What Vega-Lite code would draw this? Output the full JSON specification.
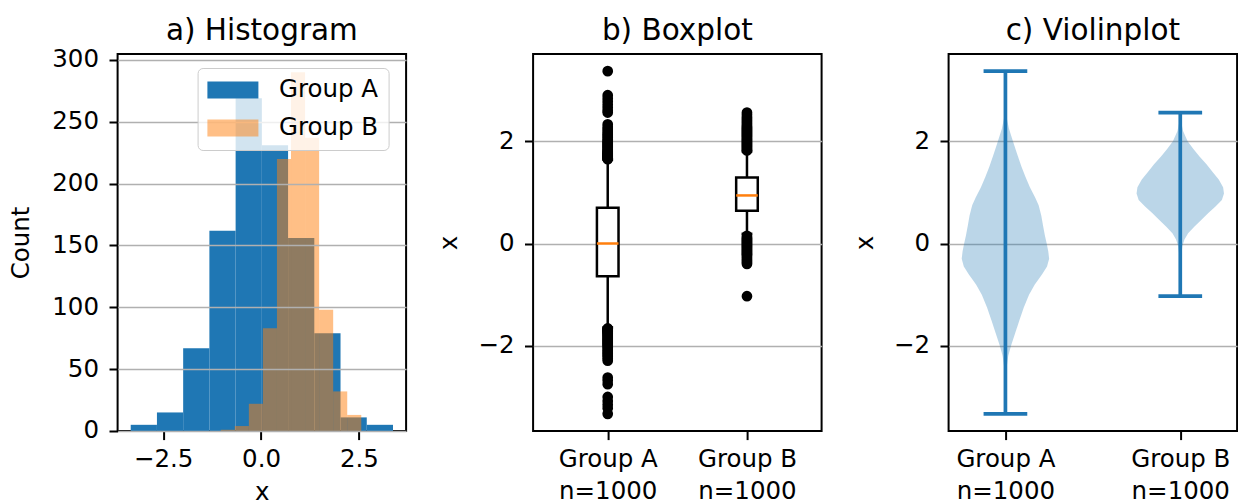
{
  "$schema": "https://vega.github.io/schema/vega-lite/v6.json",
  "padding": {"left": 6.6, "top": 14, "right": 0, "bottom": 0},
  "background": "white",
  "spacing": 126.5,
  "bounds": "flush",
  "datasets": {
    "hist": [
      {"group": "Group A", "start": -3.33, "end": -2.66, "count": 5},
      {"group": "Group A", "start": -2.66, "end": -1.99, "count": 15},
      {"group": "Group A", "start": -1.99, "end": -1.32, "count": 67},
      {"group": "Group A", "start": -1.32, "end": -0.65, "count": 162},
      {"group": "Group A", "start": -0.65, "end": 0.02, "count": 269},
      {"group": "Group A", "start": 0.02, "end": 0.69, "count": 231},
      {"group": "Group A", "start": 0.69, "end": 1.36, "count": 156},
      {"group": "Group A", "start": 1.36, "end": 2.03, "count": 79},
      {"group": "Group A", "start": 2.03, "end": 2.70, "count": 11},
      {"group": "Group A", "start": 2.70, "end": 3.37, "count": 5},
      {"group": "Group B", "start": -1.03, "end": -0.671, "count": 1},
      {"group": "Group B", "start": -0.671, "end": -0.312, "count": 4},
      {"group": "Group B", "start": -0.312, "end": 0.047, "count": 22},
      {"group": "Group B", "start": 0.047, "end": 0.406, "count": 83},
      {"group": "Group B", "start": 0.406, "end": 0.765, "count": 220},
      {"group": "Group B", "start": 0.765, "end": 1.124, "count": 290},
      {"group": "Group B", "start": 1.124, "end": 1.483, "count": 237},
      {"group": "Group B", "start": 1.483, "end": 1.842, "count": 98},
      {"group": "Group B", "start": 1.842, "end": 2.201, "count": 32},
      {"group": "Group B", "start": 2.201, "end": 2.56, "count": 13}
    ],
    "box": [
      {"group": "Group A", "pos": 1, "q1": -0.64, "med": 0.0, "q3": 0.70, "wlo": -1.64, "whi": 1.64},
      {"group": "Group B", "pos": 2, "q1": 0.64, "med": 0.94, "q3": 1.29, "wlo": 0.19, "whi": 1.80}
    ],
    "fliers": [
      {"pos": 1, "v": 3.37}, {"pos": 1, "v": 2.90}, {"pos": 1, "v": 2.84}, {"pos": 1, "v": 2.78}, {"pos": 1, "v": 2.72},
      {"pos": 1, "v": 2.66}, {"pos": 1, "v": 2.60}, {"pos": 1, "v": 2.56}, {"pos": 1, "v": 2.33}, {"pos": 1, "v": 2.28},
      {"pos": 1, "v": 2.24}, {"pos": 1, "v": 2.20}, {"pos": 1, "v": 2.16}, {"pos": 1, "v": 2.13}, {"pos": 1, "v": 2.10},
      {"pos": 1, "v": 2.07}, {"pos": 1, "v": 2.04}, {"pos": 1, "v": 2.01}, {"pos": 1, "v": 1.99}, {"pos": 1, "v": 1.97},
      {"pos": 1, "v": 1.95}, {"pos": 1, "v": 1.93}, {"pos": 1, "v": 1.91}, {"pos": 1, "v": 1.89}, {"pos": 1, "v": 1.87},
      {"pos": 1, "v": 1.85}, {"pos": 1, "v": 1.83}, {"pos": 1, "v": 1.81}, {"pos": 1, "v": 1.80}, {"pos": 1, "v": 1.78},
      {"pos": 1, "v": 1.77}, {"pos": 1, "v": 1.76}, {"pos": 1, "v": 1.75}, {"pos": 1, "v": 1.74}, {"pos": 1, "v": 1.73},
      {"pos": 1, "v": 1.72}, {"pos": 1, "v": 1.71}, {"pos": 1, "v": 1.70}, {"pos": 1, "v": 1.69}, {"pos": 1, "v": 1.68},
      {"pos": 1, "v": 1.67}, {"pos": 1, "v": 1.66}, {"pos": 1, "v": 1.65},
      {"pos": 1, "v": -1.66}, {"pos": 1, "v": -1.67}, {"pos": 1, "v": -1.68}, {"pos": 1, "v": -1.69}, {"pos": 1, "v": -1.70},
      {"pos": 1, "v": -1.71}, {"pos": 1, "v": -1.72}, {"pos": 1, "v": -1.73}, {"pos": 1, "v": -1.75}, {"pos": 1, "v": -1.76},
      {"pos": 1, "v": -1.78}, {"pos": 1, "v": -1.80}, {"pos": 1, "v": -1.82}, {"pos": 1, "v": -1.84}, {"pos": 1, "v": -1.86},
      {"pos": 1, "v": -1.88}, {"pos": 1, "v": -1.90}, {"pos": 1, "v": -1.92}, {"pos": 1, "v": -1.94}, {"pos": 1, "v": -1.96},
      {"pos": 1, "v": -1.98}, {"pos": 1, "v": -2.00}, {"pos": 1, "v": -2.03}, {"pos": 1, "v": -2.06}, {"pos": 1, "v": -2.09},
      {"pos": 1, "v": -2.12}, {"pos": 1, "v": -2.15}, {"pos": 1, "v": -2.18}, {"pos": 1, "v": -2.21}, {"pos": 1, "v": -2.25},
      {"pos": 1, "v": -2.29}, {"pos": 1, "v": -2.62}, {"pos": 1, "v": -2.68}, {"pos": 1, "v": -2.75}, {"pos": 1, "v": -3.00},
      {"pos": 1, "v": -3.08}, {"pos": 1, "v": -3.15}, {"pos": 1, "v": -3.22}, {"pos": 1, "v": -3.33},
      {"pos": 2, "v": 2.56}, {"pos": 2, "v": 2.52}, {"pos": 2, "v": 2.48}, {"pos": 2, "v": 2.45}, {"pos": 2, "v": 2.42},
      {"pos": 2, "v": 2.39}, {"pos": 2, "v": 2.36}, {"pos": 2, "v": 2.33}, {"pos": 2, "v": 2.30}, {"pos": 2, "v": 2.28},
      {"pos": 2, "v": 2.26}, {"pos": 2, "v": 2.24}, {"pos": 2, "v": 2.22}, {"pos": 2, "v": 2.20}, {"pos": 2, "v": 2.18},
      {"pos": 2, "v": 2.16}, {"pos": 2, "v": 2.14}, {"pos": 2, "v": 2.12}, {"pos": 2, "v": 2.10}, {"pos": 2, "v": 2.08},
      {"pos": 2, "v": 2.06}, {"pos": 2, "v": 2.04}, {"pos": 2, "v": 2.02}, {"pos": 2, "v": 2.00}, {"pos": 2, "v": 1.98},
      {"pos": 2, "v": 1.96}, {"pos": 2, "v": 1.94}, {"pos": 2, "v": 1.92}, {"pos": 2, "v": 1.90}, {"pos": 2, "v": 1.88},
      {"pos": 2, "v": 1.86}, {"pos": 2, "v": 1.84}, {"pos": 2, "v": 1.82},
      {"pos": 2, "v": 0.15}, {"pos": 2, "v": 0.12}, {"pos": 2, "v": 0.10}, {"pos": 2, "v": 0.08}, {"pos": 2, "v": 0.06},
      {"pos": 2, "v": 0.04}, {"pos": 2, "v": 0.02}, {"pos": 2, "v": 0.00}, {"pos": 2, "v": -0.02}, {"pos": 2, "v": -0.04},
      {"pos": 2, "v": -0.06}, {"pos": 2, "v": -0.08}, {"pos": 2, "v": -0.10}, {"pos": 2, "v": -0.12}, {"pos": 2, "v": -0.14},
      {"pos": 2, "v": -0.16}, {"pos": 2, "v": -0.18}, {"pos": 2, "v": -0.20}, {"pos": 2, "v": -0.22}, {"pos": 2, "v": -0.25},
      {"pos": 2, "v": -0.28}, {"pos": 2, "v": -0.31}, {"pos": 2, "v": -0.34}, {"pos": 2, "v": -0.37}, {"pos": 2, "v": -0.40},
      {"pos": 2, "v": -1.03}
    ],
    "violin": [
      {"group": "Group A", "v": 3.37, "lo": 1.0, "hi": 1.0},
      {"group": "Group A", "v": 3.0, "lo": 0.999, "hi": 1.001},
      {"group": "Group A", "v": 2.7, "lo": 0.997, "hi": 1.003},
      {"group": "Group A", "v": 2.45, "lo": 0.992, "hi": 1.008},
      {"group": "Group A", "v": 2.25, "lo": 0.98, "hi": 1.02},
      {"group": "Group A", "v": 2.0, "lo": 0.957, "hi": 1.043},
      {"group": "Group A", "v": 1.75, "lo": 0.933, "hi": 1.067},
      {"group": "Group A", "v": 1.5, "lo": 0.908, "hi": 1.092},
      {"group": "Group A", "v": 1.3, "lo": 0.885, "hi": 1.115},
      {"group": "Group A", "v": 1.1, "lo": 0.86, "hi": 1.14},
      {"group": "Group A", "v": 0.9, "lo": 0.83, "hi": 1.17},
      {"group": "Group A", "v": 0.75, "lo": 0.81, "hi": 1.19},
      {"group": "Group A", "v": 0.55, "lo": 0.795, "hi": 1.205},
      {"group": "Group A", "v": 0.35, "lo": 0.785, "hi": 1.215},
      {"group": "Group A", "v": 0.15, "lo": 0.774, "hi": 1.226},
      {"group": "Group A", "v": 0.0, "lo": 0.764, "hi": 1.236},
      {"group": "Group A", "v": -0.15, "lo": 0.755, "hi": 1.245},
      {"group": "Group A", "v": -0.3, "lo": 0.75, "hi": 1.25},
      {"group": "Group A", "v": -0.45, "lo": 0.762, "hi": 1.238},
      {"group": "Group A", "v": -0.6, "lo": 0.79, "hi": 1.21},
      {"group": "Group A", "v": -0.8, "lo": 0.832, "hi": 1.168},
      {"group": "Group A", "v": -1.0, "lo": 0.865, "hi": 1.135},
      {"group": "Group A", "v": -1.25, "lo": 0.895, "hi": 1.105},
      {"group": "Group A", "v": -1.5, "lo": 0.92, "hi": 1.08},
      {"group": "Group A", "v": -1.75, "lo": 0.944, "hi": 1.056},
      {"group": "Group A", "v": -2.0, "lo": 0.968, "hi": 1.032},
      {"group": "Group A", "v": -2.2, "lo": 0.984, "hi": 1.016},
      {"group": "Group A", "v": -2.45, "lo": 0.994, "hi": 1.006},
      {"group": "Group A", "v": -2.8, "lo": 0.998, "hi": 1.002},
      {"group": "Group A", "v": -3.33, "lo": 1.0, "hi": 1.0},
      {"group": "Group B", "v": 2.56, "lo": 2.0, "hi": 2.0},
      {"group": "Group B", "v": 2.4, "lo": 1.996, "hi": 2.004},
      {"group": "Group B", "v": 2.2, "lo": 1.984, "hi": 2.016},
      {"group": "Group B", "v": 2.0, "lo": 1.958, "hi": 2.042},
      {"group": "Group B", "v": 1.85, "lo": 1.925, "hi": 2.075},
      {"group": "Group B", "v": 1.7, "lo": 1.89, "hi": 2.11},
      {"group": "Group B", "v": 1.55, "lo": 1.85, "hi": 2.15},
      {"group": "Group B", "v": 1.4, "lo": 1.815, "hi": 2.185},
      {"group": "Group B", "v": 1.25, "lo": 1.78, "hi": 2.22},
      {"group": "Group B", "v": 1.1, "lo": 1.755, "hi": 2.245},
      {"group": "Group B", "v": 0.98, "lo": 1.75, "hi": 2.25},
      {"group": "Group B", "v": 0.85, "lo": 1.762, "hi": 2.238},
      {"group": "Group B", "v": 0.72, "lo": 1.8, "hi": 2.2},
      {"group": "Group B", "v": 0.6, "lo": 1.838, "hi": 2.162},
      {"group": "Group B", "v": 0.46, "lo": 1.88, "hi": 2.12},
      {"group": "Group B", "v": 0.33, "lo": 1.92, "hi": 2.08},
      {"group": "Group B", "v": 0.2, "lo": 1.955, "hi": 2.045},
      {"group": "Group B", "v": 0.08, "lo": 1.976, "hi": 2.024},
      {"group": "Group B", "v": -0.05, "lo": 1.988, "hi": 2.012},
      {"group": "Group B", "v": -0.25, "lo": 1.995, "hi": 2.005},
      {"group": "Group B", "v": -0.5, "lo": 1.998, "hi": 2.002},
      {"group": "Group B", "v": -1.03, "lo": 2.0, "hi": 2.0}
    ],
    "vstats": [
      {"group": "Group A", "pos": 1, "min": -3.33, "max": 3.37},
      {"group": "Group B", "pos": 2, "min": -1.03, "max": 2.56}
    ]
  },
  "hconcat": [
    {
      "width": 288.5,
      "height": 377,
      "title": "a) Histogram",
      "data": {"name": "hist"},
      "mark": {"type": "bar"},
      "encoding": {
        "x": {"field": "start", "type": "quantitative",
              "scale": {"domain": [-3.665, 3.705], "nice": false, "zero": false},
              "axis": {"values": [-2.5, 0, 2.5], "format": ".1f", "title": "x", "titlePadding": 9}},
        "x2": {"field": "end"},
        "y": {"field": "count", "type": "quantitative", "stack": null,
              "scale": {"domain": [0, 304.8], "nice": false},
              "axis": {"values": [0, 50, 100, 150, 200, 250, 300], "title": "Count", "zindex": 1, "titlePadding": 18.5}},
        "y2": {"datum": 0},
        "color": {"field": "group", "type": "nominal",
                  "scale": {"domain": ["Group A", "Group B"], "range": ["#1f77b4", "rgba(255,127,14,0.5)"]},
                  "legend": {"title": null, "orient": "none", "legendX": 80, "legendY": 14,
                             "symbolType": "M-1.441,-1H4.559V1H-1.441Z", "symbolSize": 289, "symbolStrokeWidth": 0,
                             "labelFontSize": 24.5, "labelColor": "black", "labelOffset": 47.1,
                             "padding": 9.8, "rowPadding": 13,
                             "fillColor": "rgba(255,255,255,0.8)", "strokeColor": "#cccccc",
                             "cornerRadius": 5, "zindex": 2}}
      }
    },
    {
      "width": 288.5,
      "height": 377,
      "title": {"text": "b) Boxplot", "offset": 7.5},
      "encoding": {
        "x": {"field": "pos", "type": "quantitative",
              "scale": {"domain": [0.5, 2.5], "nice": false, "zero": false},
              "axis": {"values": [1, 2], "title": null, "labelLineHeight": 31.5,
                       "labelExpr": "datum.value == 1 ? ['Group A', 'n=1000'] : ['Group B', 'n=1000']"}}
      },
      "layer": [
        {
          "data": {"name": "box"},
          "mark": {"type": "rule", "color": "black", "strokeWidth": 2.5},
          "encoding": {
            "y": {"field": "wlo", "type": "quantitative", "title": "x",
                  "scale": {"domain": [-3.665, 3.705], "nice": false, "zero": false},
                  "axis": {"values": [-2, 0, 2], "title": "x"}},
            "y2": {"field": "whi"}
          }
        },
        {
          "data": {"name": "box"},
          "mark": {"type": "tick", "orient": "horizontal", "color": "black", "size": 10.8, "thickness": 2.5, "opacity": 1},
          "encoding": {
            "y": {"field": "wlo", "type": "quantitative", "title": "x"}
          }
        },
        {
          "data": {"name": "box"},
          "mark": {"type": "tick", "orient": "horizontal", "color": "black", "size": 10.8, "thickness": 2.5, "opacity": 1},
          "encoding": {
            "y": {"field": "whi", "type": "quantitative", "title": "x"}
          }
        },
        {
          "data": {"name": "box"},
          "mark": {"type": "bar", "size": 21.6, "fill": "white", "stroke": "black", "strokeWidth": 2.5},
          "encoding": {
            "y": {"field": "q1", "type": "quantitative", "title": "x"},
            "y2": {"field": "q3"}
          }
        },
        {
          "data": {"name": "box"},
          "mark": {"type": "tick", "orient": "horizontal", "color": "#ff7f0e", "size": 21.6, "thickness": 2.5, "opacity": 1},
          "encoding": {
            "y": {"field": "med", "type": "quantitative", "title": "x"}
          }
        },
        {
          "data": {"name": "fliers"},
          "mark": {"type": "point", "shape": "circle", "filled": true, "color": "black", "size": 115, "opacity": 1, "strokeWidth": 0},
          "encoding": {
            "y": {"field": "v", "type": "quantitative", "title": "x"}
          }
        }
      ]
    },
    {
      "width": 288.5,
      "height": 377,
      "title": {"text": "c) Violinplot", "offset": 7.5},
      "layer": [
        {
          "data": {"name": "violin"},
          "mark": {"type": "area", "orient": "horizontal", "color": "#1f77b4", "opacity": 0.3},
          "encoding": {
            "x": {"field": "lo", "type": "quantitative",
                  "scale": {"domain": [0.675, 2.325], "nice": false, "zero": false},
                  "axis": {"values": [1, 2], "title": null, "labelLineHeight": 31.5,
                           "labelExpr": "datum.value == 1 ? ['Group A', 'n=1000'] : ['Group B', 'n=1000']"}},
            "x2": {"field": "hi"},
            "y": {"field": "v", "type": "quantitative", "title": "x",
                  "scale": {"domain": [-3.665, 3.705], "nice": false, "zero": false},
                  "axis": {"values": [-2, 0, 2], "title": "x"}},
            "detail": {"field": "group", "type": "nominal"}
          }
        },
        {
          "data": {"name": "vstats"},
          "mark": {"type": "rule", "color": "#1f77b4", "strokeWidth": 3.7},
          "encoding": {
            "x": {"field": "pos", "type": "quantitative", "title": null},
            "y": {"field": "min", "type": "quantitative", "title": "x"},
            "y2": {"field": "max"}
          }
        },
        {
          "data": {"name": "vstats"},
          "mark": {"type": "tick", "orient": "horizontal", "color": "#1f77b4", "size": 43.7, "thickness": 3.7, "opacity": 1},
          "encoding": {
            "x": {"field": "pos", "type": "quantitative", "title": null},
            "y": {"field": "min", "type": "quantitative", "title": "x"}
          }
        },
        {
          "data": {"name": "vstats"},
          "mark": {"type": "tick", "orient": "horizontal", "color": "#1f77b4", "size": 43.7, "thickness": 3.7, "opacity": 1},
          "encoding": {
            "x": {"field": "pos", "type": "quantitative", "title": null},
            "y": {"field": "max", "type": "quantitative", "title": "x"}
          }
        }
      ]
    }
  ],
  "config": {
    "font": "DejaVu Sans",
    "view": {"stroke": "black", "strokeWidth": 2},
    "axis": {"domain": false, "tickColor": "black", "tickWidth": 2, "tickSize": 8.6,
             "labelFont": "DejaVu Sans", "labelFontSize": 24.5, "labelColor": "black", "labelPadding": 10.5,
             "titleFont": "DejaVu Sans", "titleFontSize": 24.5, "titleFontWeight": "normal", "titleColor": "black",
             "gridColor": "#b0b0b0", "gridWidth": 1.6, "labelFlush": false, "labelOverlap": false, "labelBound": false},
    "axisX": {"grid": false, "labelPadding": 8},
    "axisY": {"grid": true, "titlePadding": 16},
    "title": {"font": "DejaVu Sans", "fontSize": 29.5, "fontWeight": "normal", "color": "black", "baseline": "alphabetic", "offset": 0.5, "frame": "group"}
  }
}
